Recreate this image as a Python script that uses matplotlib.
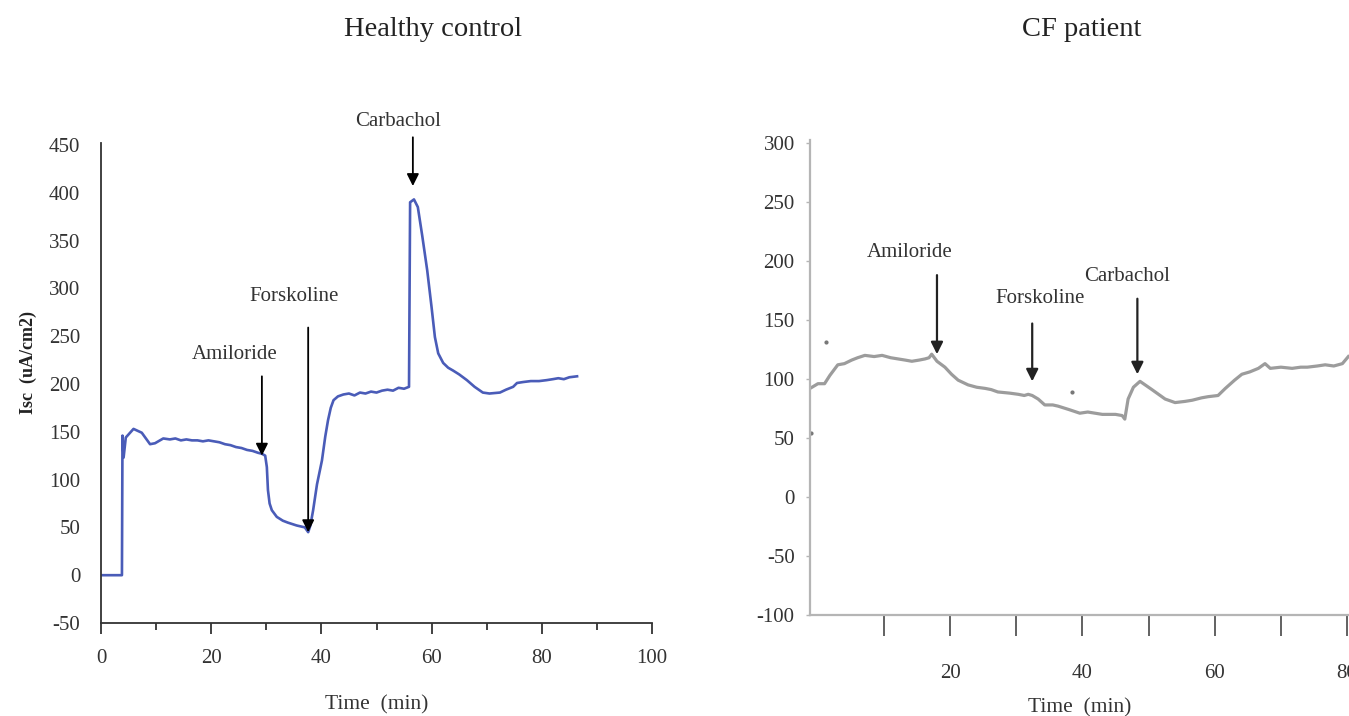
import matplotlib
matplotlib.use("Agg")
import matplotlib.pyplot as plt
from matplotlib.ticker import FixedLocator

plt.rcParams['font.family'] = ['Liberation Serif', 'DejaVu Serif']
plt.rcParams['axes.unicode_minus'] = False

# ---------------- data ----------------
# Healthy control trace
hc_time = [0, 3.8, 3.9, 4.1, 4.5, 5.9, 7.4, 8.9, 9.8, 11.3, 12.5, 13.5, 14.5, 15.5, 16.5,
           17.5, 18.5, 19.5, 20.5, 21.5, 22.5, 23.5, 24.5, 25.5, 26.5, 27.5, 28.5, 29.2,
           29.8, 30.1, 30.3, 30.6, 31.0, 31.9, 33.0, 33.9, 35.5, 37.0, 37.6, 38.0, 38.5,
           39.2, 40.1, 40.7, 41.2, 41.7, 42.2, 43.0, 44.0, 45.0, 46.0, 47.0, 48.0, 49.0,
           50.0, 51.0, 52.0, 53.0, 54.0, 55.0, 55.9, 56.1, 56.8, 57.5, 58.3, 59.2, 60.0,
           60.6, 61.2, 62.1, 63.0, 63.9, 65.0, 66.4, 67.8, 69.3, 70.5, 72.4, 73.5, 74.8,
           75.5, 76.6, 78.0, 79.5, 80.9, 82.0, 83.0, 84.0, 85.0, 86.4]
hc_isc = [0, 0, 146, 123, 144, 153, 149, 137, 138, 143, 142, 143, 141, 142, 141,
          141, 140, 141, 140, 139, 137, 136, 134, 133, 131, 130, 128, 127,
          125, 113, 89, 75, 68, 61, 57, 55, 52, 50, 45, 52, 68,
          95, 120, 145, 162, 175, 183, 187, 189, 190, 188, 191, 190, 192,
          191, 193, 194, 193, 196, 195, 197, 390, 393, 385, 355, 319, 280,
          249, 232, 222, 217, 214, 210, 204, 197, 191, 190, 191, 194, 197,
          201, 202, 203, 203, 204, 205, 206, 205, 207, 208]

# CF patient trace
cf_time = [-1.2, 0, 1.0, 1.8, 3.0, 4.0, 5.1, 6.0, 7.1, 8.5, 9.7, 11.0, 12.1, 13.2, 14.2,
           15.3, 16.2, 16.8, 17.2, 17.6, 18.0, 19.2, 20.2, 21.2, 22.7, 24.0, 25.3, 26.2,
           27.2, 29.0, 30.3, 31.2, 31.8, 32.4, 33.3, 34.3, 35.5, 36.3, 38.0, 39.6, 40.8,
           41.9, 43.0, 44.0, 45.0, 46.0, 46.4, 46.9, 47.7, 48.7, 50.5, 52.5, 54.0, 55.5,
           56.6, 58.0, 59.0, 60.5, 61.6, 63.0, 64.1, 65.3, 66.6, 67.6, 68.4, 70.0, 71.7,
           73.0, 74.0, 75.5, 76.7, 78.0, 79.3, 80.2]
cf_isc = [92, 96, 96, 103, 112, 113, 116, 118, 120, 119, 120, 118, 117, 116, 115,
          116, 117, 118, 121, 118, 115, 110, 104, 99, 95, 93, 92, 91,
          89, 88, 87, 86, 87, 86, 83, 78, 78, 77, 74, 71, 72,
          71, 70, 70, 70, 69, 66, 83, 93, 98, 91, 83, 80, 81,
          82, 84, 85, 86, 92, 99, 104, 106, 109, 113, 109, 110, 109,
          110, 110, 111, 112, 111, 113, 119]
cf_speck_time = [1.2, -1.1, 38.4]
cf_speck_isc = [131, 54, 89]

# Annotations: label, arrow x, arrow tail y, arrow tip y, text x, text y
hc_labels = ['Amiloride', 'Forskoline', 'Carbachol']
hc_arrow_x = [29.2, 37.6, 56.6]
hc_arrow_tail = [208, 259, 458]
hc_arrow_tip = [125, 45, 407]
hc_text_x = [24.3, 35.0, 54.0]
hc_text_y = [231, 291, 475]

cf_labels = ['Amiloride', 'Forskoline', 'Carbachol']
cf_arrow_x = [18.0, 32.4, 48.3]
cf_arrow_tail = [188, 147, 168]
cf_arrow_tip = [121, 98, 104]
cf_text_x = [13.8, 33.6, 46.7]
cf_text_y = [207, 168, 187]

hc_xticks_major = [0, 20, 40, 60, 80, 100]
hc_xticks_minor = [10, 30, 50, 70, 90]
hc_yticks = [-50, 0, 50, 100, 150, 200, 250, 300, 350, 400, 450]
cf_xticks_major = [20, 40, 60, 80]
cf_xticks_minor = [10, 30, 50, 70]
cf_yticks = [-100, -50, 0, 50, 100, 150, 200, 250, 300]

TICK_FS = 15
LAB_FS = 15.5
ANN_FS = 15
TITLE_FS = 20.5

# ---------------- figure ----------------
W, H = 1349, 716
fig = plt.figure(figsize=(W / 100, H / 100), dpi=100)

def px_axes(l, r, t, b):
    return fig.add_axes([l / W, 1 - b / H, (r - l) / W, (b - t) / H])

# ---- Left: Healthy control ----
ax1 = px_axes(101, 652, 143, 623)
ax1.plot(hc_time, hc_isc, color='#4a5cb8', lw=1.9, solid_joinstyle='round')
ax1.set_xlim(0, 100)
ax1.set_ylim(-50, 452)
for s in ['top', 'right']:
    ax1.spines[s].set_visible(False)
for s in ['left', 'bottom']:
    ax1.spines[s].set_color('#333333')
    ax1.spines[s].set_linewidth(1.3)
ax1.set_yticks(hc_yticks)
ax1.tick_params(axis='y', length=0, pad=15, labelsize=TICK_FS, colors='#333333')
ax1.set_xticks(hc_xticks_major)
ax1.xaxis.set_minor_locator(FixedLocator(hc_xticks_minor))
ax1.tick_params(axis='x', which='major', direction='out', length=8, width=1.3,
                pad=11, labelsize=TICK_FS, colors='#333333')
ax1.tick_params(axis='x', which='minor', direction='out', length=5, width=1.3,
                colors='#333333')
ax1.set_xlabel('Time  (min)', fontsize=LAB_FS, labelpad=19, color='#333333')
fig.text(28 / W, 1 - 362 / H, 'Isc  (uA/cm2)', rotation=90, ha='center', va='center',
         fontsize=13, fontweight='bold', color='#222222')
for lab, ax_, t0, t1, tx, ty in zip(hc_labels, hc_arrow_x, hc_arrow_tail, hc_arrow_tip,
                                    hc_text_x, hc_text_y):
    ax1.annotate('', xy=(ax_, t1), xytext=(ax_, t0),
                 arrowprops=dict(arrowstyle='-|>', color='black', lw=1.3,
                                 mutation_scale=18, shrinkA=0, shrinkB=0))
    ax1.text(tx, ty, lab, ha='center', va='center', fontsize=ANN_FS, color='#333333')
fig.text(433 / W, 1 - 30 / H, 'Healthy control', ha='center', va='center',
         fontsize=TITLE_FS, color='#222222')

# ---- Right: CF patient ----
ax2 = px_axes(810, 1349, 140, 615)
ax2.plot(cf_time, cf_isc, color='#9c9c9c', lw=2.3, solid_joinstyle='round')
ax2.plot(cf_speck_time, cf_speck_isc, ls='none', marker='o', ms=2, color='#777777')
ax2.set_xlim(-1.2, 80.3)
ax2.set_ylim(-100, 302.5)
for s in ['top', 'right']:
    ax2.spines[s].set_visible(False)
for s in ['left', 'bottom']:
    ax2.spines[s].set_color('#b5b5b5')
    ax2.spines[s].set_linewidth(1.6)
ax2.set_yticks(cf_yticks)
ax2.tick_params(axis='y', direction='out', length=3, width=1, color='#b5b5b5',
                pad=8, labelsize=TICK_FS, labelcolor='#333333')
ax2.set_xticks(cf_xticks_major)
ax2.xaxis.set_minor_locator(FixedLocator(cf_xticks_minor))
ax2.tick_params(axis='x', which='both', direction='out', length=15, width=1.3,
                color='#555555', pad=20, labelsize=TICK_FS, labelcolor='#333333')
ax2.set_xlabel('Time  (min)', fontsize=LAB_FS, labelpad=11, color='#333333')
for lab, ax_, t0, t1, tx, ty in zip(cf_labels, cf_arrow_x, cf_arrow_tail, cf_arrow_tip,
                                    cf_text_x, cf_text_y):
    ax2.annotate('', xy=(ax_, t1), xytext=(ax_, t0),
                 arrowprops=dict(arrowstyle='-|>', color='#222222', lw=1.6,
                                 mutation_scale=18, shrinkA=0, shrinkB=0))
    ax2.text(tx, ty, lab, ha='center', va='center', fontsize=ANN_FS, color='#333333')
fig.text(1082 / W, 1 - 30 / H, 'CF patient', ha='center', va='center',
         fontsize=TITLE_FS, color='#222222')

fig.savefig('out.png', dpi=100)
